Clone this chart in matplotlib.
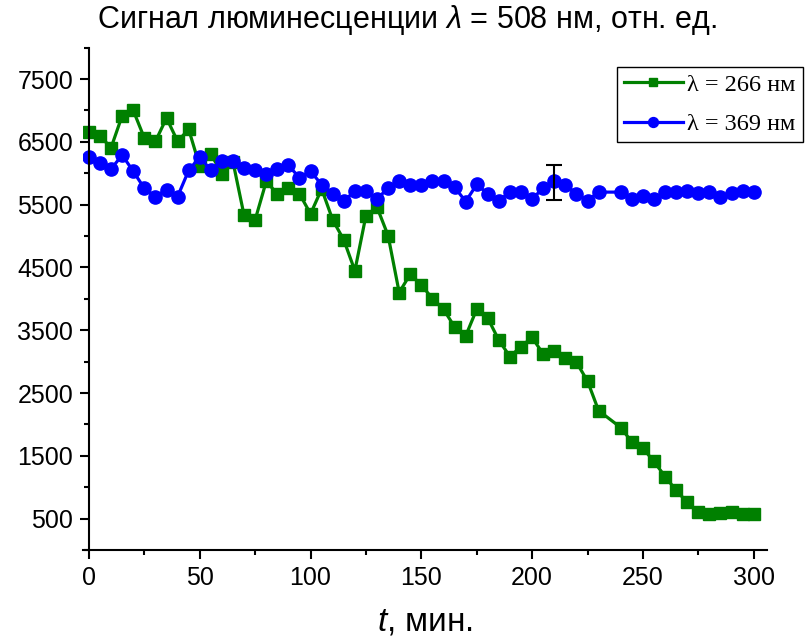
import matplotlib
matplotlib.use("Agg")
import matplotlib.pyplot as plt
from matplotlib.ticker import MultipleLocator

plt.rcParams["font.family"] = ["Liberation Sans", "DejaVu Sans"]
plt.rcParams["mathtext.fontset"] = "custom"
plt.rcParams["mathtext.rm"] = "Liberation Sans"
plt.rcParams["mathtext.it"] = "Liberation Sans:italic"

# time, min
t_266 = [0, 5, 10, 15, 20, 25, 30, 35, 40, 45, 50, 55, 60, 65, 70, 75, 80, 85,
         90, 95, 100, 105, 110, 115, 120, 125, 130, 135, 140, 145, 150, 155,
         160, 165, 170, 175, 180, 185, 190, 195, 200, 205, 210, 215, 220, 225,
         230, 240, 245, 250, 255, 260, 265, 270, 275, 280, 285, 290, 295, 300]
sig_266 = [6660, 6590, 6410, 6920, 7000, 6560, 6510, 6880, 6510, 6700, 6110,
           6310, 5990, 6180, 5330, 5260, 5870, 5673, 5760, 5673, 5353, 5750,
           5258, 4939, 4448, 5327, 5460, 5007, 4101, 4394, 4219, 4005, 3835,
           3553, 3409, 3835, 3691, 3340, 3080, 3240, 3385, 3120, 3170, 3050,
           2990, 2690, 2220, 1950, 1720, 1620, 1410, 1170, 950, 760, 600, 570,
           585, 600, 570, 570]

t_369 = t_266
sig_369 = [6260, 6160, 6070, 6290, 6030, 5760, 5630, 5740, 5630, 6045, 6260,
           6045, 6195, 6195, 6090, 6060, 5995, 6075, 6126, 5930, 6034, 5818,
           5673, 5566, 5710, 5710, 5593, 5763, 5875, 5806, 5806, 5875, 5875,
           5780, 5550, 5822, 5673, 5566, 5700, 5700, 5593, 5763, 5875, 5818,
           5673, 5566, 5700, 5700, 5593, 5646, 5593, 5700, 5700, 5716, 5690,
           5700, 5630, 5690, 5710, 5700]

# typical error shown at one point of the 369 nm curve
err_t = 210
err_y = 5850
err_dy = 275

fig = plt.figure(figsize=(8.05, 6.37), dpi=100)
ax = fig.add_axes([83 / 805, 1 - 550 / 637, 684 / 805, (550 - 47.7) / 637])

ax.plot(t_266, sig_266, "-s", color="#008000", linewidth=2.3, markersize=8.5,
        label="λ = 266 нм")
ax.plot(t_369, sig_369, "-o", color="#0000FF", linewidth=2.3, markersize=9.5,
        label="λ = 369 нм")
ax.errorbar([err_t], [err_y], yerr=[err_dy], fmt="none", ecolor="black",
            elinewidth=1.5, capsize=6, capthick=1.5, zorder=5)

ax.set_xlim(-2.7, 306)
ax.set_ylim(0, 8000)
ax.spines["left"].set_position(("data", 0))
ax.spines["left"].set_bounds(0, 8000)
ax.spines["top"].set_visible(False)
ax.spines["right"].set_visible(False)
for s in ("left", "bottom"):
    ax.spines[s].set_linewidth(1.5)

ax.set_xticks(range(0, 301, 50))
ax.xaxis.set_minor_locator(MultipleLocator(25))
ax.set_yticks(range(500, 7501, 1000))
ax.yaxis.set_minor_locator(MultipleLocator(1000))
ax.tick_params(which="major", direction="out", length=6.5, width=1.5,
               labelsize=18, pad=5)
ax.tick_params(which="minor", direction="out", length=3.5, width=1.5)

ax.set_xlabel("$t$, мин.", fontsize=24, labelpad=12)
fig.text(407 / 805, 1 - 20 / 637,
         "Сигнал люминесценции $\\lambda$ = 508 нм, отн. ед.",
         fontsize=22, ha="center", va="center")

leg = ax.legend(loc="upper left", bbox_to_anchor=(617 / 805, 1 - 66.7 / 637),
                bbox_transform=fig.transFigure, borderaxespad=0,
                fancybox=False, edgecolor="black", framealpha=1,
                handlelength=2.4, borderpad=0.3, labelspacing=0.7,
                handletextpad=0.2, markerscale=0.75,
                prop={"family": "Liberation Serif", "size": 17.5})
leg.get_frame().set_linewidth(1.0)

fig.savefig("out.png", dpi=100)
